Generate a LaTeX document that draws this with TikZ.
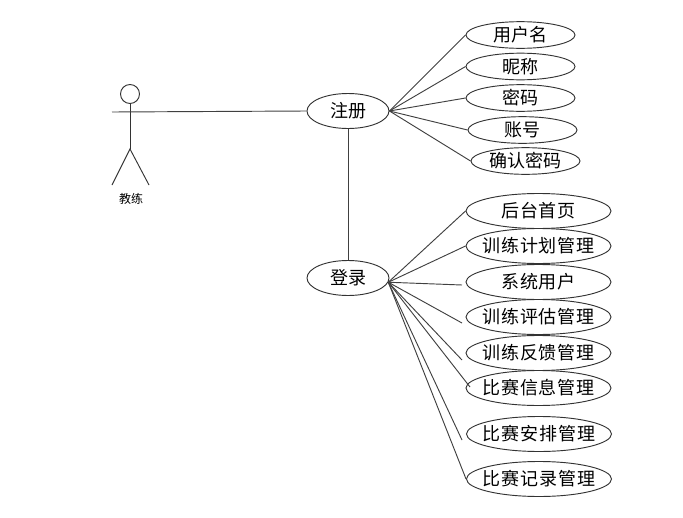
\documentclass[tikz,border=0pt]{standalone}
\usepackage{fontspec}
\setmainfont{Noto Sans CJK SC}
\newfontfamily\widefont[LetterSpace=5]{Noto Sans CJK SC}
\newcommand{\lab}[1]{\makebox[0pt]{\raisebox{-1.2pt}{#1}}}
\usetikzlibrary{shapes.geometric}

\begin{document}
\begin{tikzpicture}[
    x=0.75pt, y=-0.75pt,
    usecase/.style={ellipse, draw=black!80, line width=0.7pt, inner sep=0pt, font=\fontsize{13.5pt}{15pt}\selectfont},
    small/.style={usecase, minimum width=81.75pt, minimum height=20pt},
    wide/.style={usecase, minimum width=108.75pt, minimum height=26.25pt, font=\fontsize{13.5pt}{15pt}\selectfont\widefont},
    main/.style={usecase, minimum width=61.5pt, minimum height=26.25pt},
    link/.style={draw=black!75, line width=0.7pt},
    stick/.style={draw=black!80, line width=0.7pt}
]
\useasboundingbox (0,0) rectangle (683,518);
% actor
\node[circle, stick, minimum size=14.25pt, inner sep=0pt] (head) at (130,94) {};
\coordinate (hand) at (112,112);
\coordinate (hip) at (130,149);
\coordinate (lfoot) at (112,185);
\coordinate (rfoot) at (149,185);
\node[font=\fontsize{9pt}{10pt}\selectfont] (coach) at (131,199) {教练};
\draw[stick] (head.south) -- (hip);
\draw[stick] (lfoot) -- (hip) -- (rfoot);
% main cases
\node[main] (reg) at (348,111) {\lab{注册}};
\node[main] (login) at (348,278) {\lab{登录}};
% register items
\node[small] (uname) at (520.5,35) {\lab{用户名}};
\node[small] (nick) at (520.5,66.5) {\lab{昵称}};
\node[small] (pwd) at (520.5,98) {\lab{密码}};
\node[small] (acct) at (522.5,130) {\lab{账号}};
\node[small] (confirm) at (525.5,161) {\lab{确认密码}};
% login items
\node[wide] (home) at (538.5,211) {\lab{后台首页}};
\node[wide] (plan) at (538.5,246) {\lab{训练计划管理}};
\node[wide] (user) at (538.5,282) {\lab{系统用户}};
\node[wide] (eval) at (538.5,317) {\lab{训练评估管理}};
\node[wide] (feed) at (538.5,353) {\lab{训练反馈管理}};
\node[wide] (info) at (538.5,388) {\lab{比赛信息管理}};
\node[wide] (sched) at (539,434) {\lab{比赛安排管理}};
\node[wide] (rec) at (539,479) {\lab{比赛记录管理}};
% free ends
\coordinate (userend) at (462,285);
\coordinate (evalend) at (462,323);
\coordinate (feedend) at (462,360);
\coordinate (infoend) at (470,387);
\coordinate (schedend) at (462,440);
% connectors
\draw[link] (hand) -- (reg.west);
\draw[link] (reg) -- (login);
\foreach \n in {uname,nick,pwd,acct,confirm}
    \draw[link] (reg.east) -- (\n.west);
\foreach \n in {home,plan,rec}
    \draw[link] (login.-6) -- (\n.west);
\foreach \n in {userend,evalend,feedend,infoend,schedend}
    \draw[link] (login.-6) -- (\n);
\end{tikzpicture}
\end{document}
